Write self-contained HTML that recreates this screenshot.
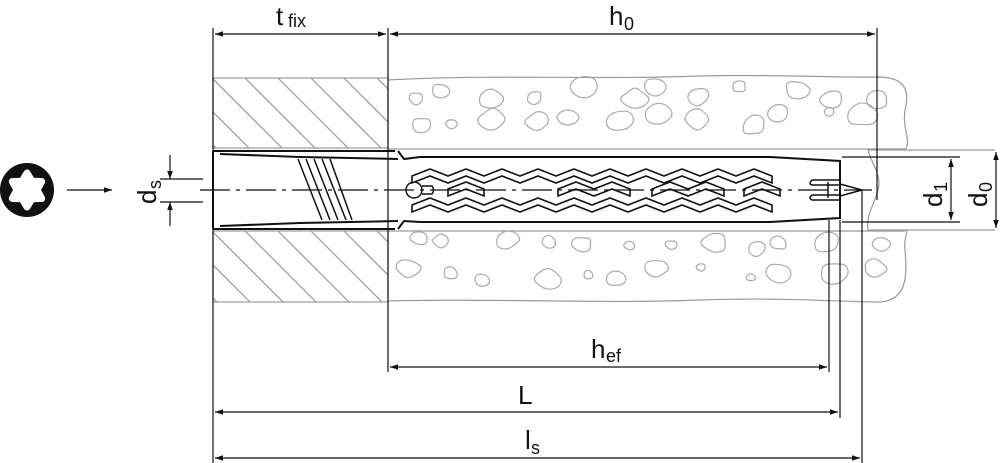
<!DOCTYPE html>
<html><head><meta charset="utf-8"><style>
html,body{margin:0;padding:0;background:#fff;}
svg{display:block}
text{font-family:"Liberation Sans",Arial,sans-serif;fill:#111}
</style></head><body>
<svg id="s" width="1000" height="463" viewBox="0 0 1000 463" xmlns="http://www.w3.org/2000/svg">
<defs>
<marker id="a" viewBox="0 0 10 10" refX="10" refY="5" markerWidth="14" markerHeight="8" markerUnits="userSpaceOnUse" orient="auto-start-reverse"><path d="M0,1.5 L10,5 L0,8.5z" fill="#111"/></marker>
<clipPath id="cf1"><rect x="213" y="78" width="175" height="70"/></clipPath>
<clipPath id="cf2"><rect x="213" y="231" width="175" height="71"/></clipPath>
</defs>
<g stroke="#999" stroke-width="1.2" fill="none">
<rect x="213" y="78" width="175" height="70"/>
<rect x="213" y="231" width="175" height="71"/>
<g id="h1" clip-path="url(#cf1)"></g>
<g id="h2" clip-path="url(#cf2)"></g>
<path d="M388,80 C500,74 600,80 700,76 C780,74 830,78 880,77 C905,78 910,90 905,110 C902,130 912,140 905,150"/>
<path d="M388,301 C480,298 600,304 700,300 C780,297 840,302 880,302 C905,300 908,280 905,250 C903,235 910,232 905,230"/>
<path d="M868,150 C872,165 882,175 878,190 C874,205 866,215 868,230"/>
<line x1="388" y1="149" x2="905" y2="149"/>
<line x1="388" y1="231" x2="905" y2="231"/>
<line x1="868" y1="150" x2="995" y2="150"/>
<line x1="868" y1="230" x2="995" y2="230"/>
<g id="blobs" stroke="#aaa"></g>
</g>
<g stroke="#111" stroke-width="2" fill="none">
<path d="M213,151 L213,229 M213,151 L395,151 M213,229 L395,229"/>
<path d="M220,154 L300,157 L398,159 M220,226 L300,223 L398,221"/>
<path d="M398,151 L404,159 L420,157 L770,157 L840,161 L840,218 L770,222 L420,222 L404,221 L398,229"/>
<g stroke-width="1.5">
<path d="M298,159 L322,220 M306,159 L330,220 M314,159 L338,220 M322,159 L346,220 M330,159 L352,220"/>
</g>
<circle cx="414" cy="190" r="8" stroke-width="1.5"/>
<path d="M422,186 L432,186 Q435,190 432,194 L422,194" stroke-width="1.5"/>
<g id="zz" stroke-width="1.6" fill="#fff"></g>
<path d="M840,180 L812,180 Q808,184 812,185 L840,185 M840,195 L812,195 Q808,198 812,200 L840,200" stroke-width="1.5"/>
<path d="M840,184 L862,190 L840,196" stroke-width="1.5"/>
<line x1="828" y1="182" x2="828" y2="198" stroke-width="1.5"/>
</g>
<line x1="200" y1="190" x2="872" y2="190" stroke="#111" stroke-width="1.2" stroke-dasharray="30,6,4,6"/>
<g stroke="#111" stroke-width="1.2" fill="none">
<line x1="213" y1="28" x2="213" y2="463"/>
<line x1="388" y1="28" x2="388" y2="372"/>
<line x1="877" y1="28" x2="877" y2="200"/>
<line x1="829" y1="220" x2="829" y2="372"/>
<line x1="840" y1="220" x2="840" y2="418"/>
<line x1="862" y1="190" x2="862" y2="463"/>
<line x1="215" y1="34" x2="386" y2="34" marker-start="url(#a)" marker-end="url(#a)"/>
<line x1="390" y1="34" x2="875" y2="34" marker-start="url(#a)" marker-end="url(#a)"/>
<line x1="390" y1="367" x2="827" y2="367" marker-start="url(#a)" marker-end="url(#a)"/>
<line x1="215" y1="412" x2="838" y2="412" marker-start="url(#a)" marker-end="url(#a)"/>
<line x1="215" y1="458" x2="860" y2="458" marker-start="url(#a)" marker-end="url(#a)"/>
<line x1="842" y1="157" x2="960" y2="157"/>
<line x1="842" y1="222" x2="960" y2="222"/>
<line x1="951" y1="159" x2="951" y2="220" marker-start="url(#a)" marker-end="url(#a)"/>
<line x1="996" y1="152" x2="996" y2="228" marker-start="url(#a)" marker-end="url(#a)"/>
<line x1="160" y1="179" x2="203" y2="179"/>
<line x1="160" y1="202" x2="203" y2="202"/>
<line x1="170" y1="155" x2="170" y2="179" marker-end="url(#a)"/>
<line x1="170" y1="226" x2="170" y2="202" marker-end="url(#a)"/>
<line x1="67" y1="190" x2="112" y2="190" marker-end="url(#a)"/>
</g>
<circle cx="27" cy="190" r="27" fill="#111"/>
<path id="tx" fill="#fff"/>
<text x="276" y="25" font-size="26">t</text><text x="288" y="27" font-size="18">fix</text>
<text x="609" y="25" font-size="26">h</text><text x="624" y="30" font-size="18">0</text>
<text x="591" y="358" font-size="26">h</text><text x="606" y="362" font-size="18">ef</text>
<text x="518" y="404" font-size="26">L</text>
<text x="525" y="449" font-size="26">l</text><text x="531" y="454" font-size="18">s</text>
<g transform="translate(156,204) rotate(-90)"><text font-size="26">d</text><text x="15" y="5" font-size="18">s</text></g>
<g transform="translate(942,207) rotate(-90)"><text font-size="26">d</text><text x="15" y="5" font-size="18">1</text></g>
<g transform="translate(987,207) rotate(-90)"><text font-size="26">d</text><text x="15" y="5" font-size="18">0</text></g>
</svg>
<script>
var NS="http://www.w3.org/2000/svg";
function el(p,t,a){var e=document.createElementNS(NS,t);for(var k in a)e.setAttribute(k,a[k]);document.getElementById(p).appendChild(e);return e;}
for(var i=-100;i<400;i+=33){el("h1","line",{x1:213+i,y1:78,x2:213+i+70,y2:148});el("h2","line",{x1:213+i,y1:231,x2:213+i+71,y2:302});}
function zig(x0,x1,y,amp,per){var p=[];for(var x=x0,k=0;x<=x1+0.1;x+=per/2,k++)p.push(x+","+(y+(k%2?-amp:0)));return p;}
function band(y,x0,x1){var top=zig(x0,x1,y,7,36),bot=zig(x0,x1,y+7,7,36).reverse();el("zz","polygon",{points:top.concat(bot).join(" ")});}
band(176,412,784);band(205,412,784);
[[448,484],[558,630],[652,724],[744,780]].forEach(function(s){band(189,s[0],s[1]);});
var seed=11;function r(){seed=(seed*9301+49297)%233280;return seed/233280;}
[[90,116],[240,270]].forEach(function(b){for(var x=392;x<880;x+=42){for(var j=0;j<2;j++){var cx=x+6+r()*28,cy=b[0]+j*(b[1]-b[0])+r()*14-4,rr=5+r()*11;var n=8,pts=[];for(var a=0;a<n;a++){var ang=a/n*6.283,rad=rr*(0.75+r()*0.4);pts.push([cx+rad*Math.cos(ang),cy+rad*0.8*Math.sin(ang)]);}
var d="";for(var a=0;a<n;a++){var p0=pts[a],p1=pts[(a+1)%n];var m=[(p0[0]+p1[0])/2,(p0[1]+p1[1])/2];if(a==0){var pl=pts[n-1];d+="M"+((pl[0]+p0[0])/2).toFixed(1)+","+((pl[1]+p0[1])/2).toFixed(1);}d+=" Q"+p0[0].toFixed(1)+","+p0[1].toFixed(1)+" "+m[0].toFixed(1)+","+m[1].toFixed(1);}
el("blobs","path",{d:d+"Z"});}}});
var d="";for(var i=0;i<12;i++){var a=i/12*6.283-1.5708,R=i%2?10:17;d+=(i?"L":"M")+(27+R*Math.cos(a)).toFixed(1)+","+(190+R*Math.sin(a)).toFixed(1);}
var tx=document.getElementById("tx");tx.setAttribute("d",d+"Z");tx.setAttribute("stroke","#fff");tx.setAttribute("stroke-width","7");tx.setAttribute("stroke-linejoin","round");
</script>
</body></html>
